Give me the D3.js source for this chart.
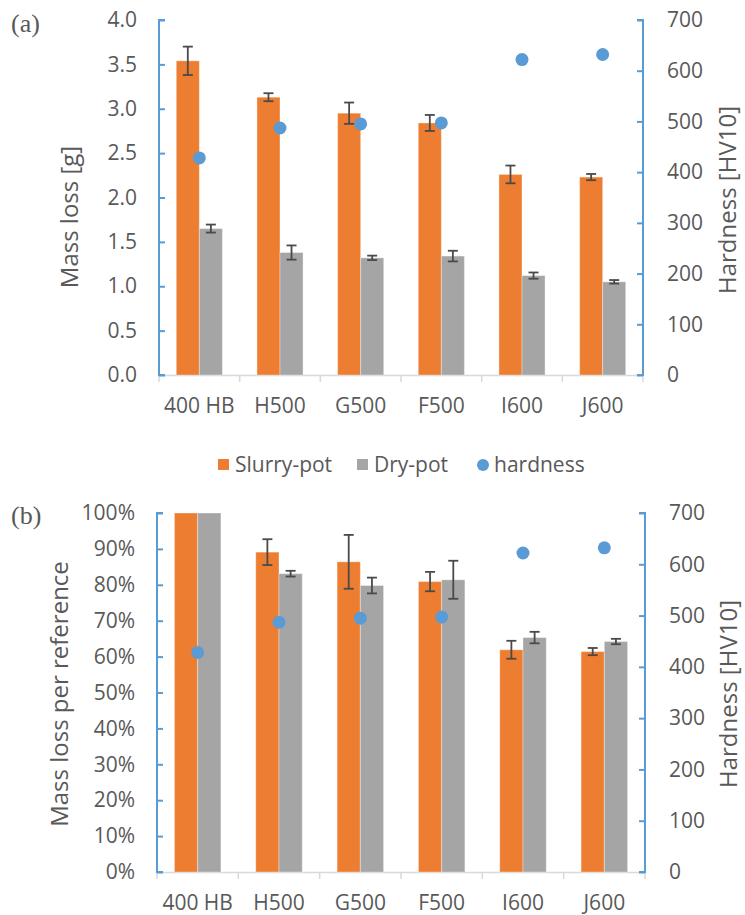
<!DOCTYPE html>
<html>
<head>
<meta charset="utf-8">
<script src="https://cdn.jsdelivr.net/npm/d3@7"></script>
<style>
  html, body { margin: 0; padding: 0; background: #fff; }
  svg { display: block; }
  text { font-family: "Open Sans", "Noto Sans", sans-serif; fill: #595959; }
</style>
</head>
<body>
<svg id="chart" width="745" height="915"></svg>
<script>
// Steel grades tested
const categories = ["400 HB", "H500", "G500", "F500", "I600", "J600"];

// Panel (a): absolute mass loss [g]
const slurryMass = [3.54, 3.13, 2.95, 2.84, 2.26, 2.23];
const slurryMassErr = [0.16, 0.045, 0.12, 0.09, 0.10, 0.035];
const dryMass = [1.65, 1.38, 1.32, 1.34, 1.12, 1.05];
const dryMassErr = [0.045, 0.08, 0.025, 0.06, 0.035, 0.02];

// Panel (b): mass loss relative to the 400 HB reference [%]
const slurryRel = [100, 89.1, 86.4, 80.9, 61.9, 61.4];
const slurryRelErr = [0, 3.6, 7.5, 2.7, 2.5, 1.0];
const dryRel = [100, 83.1, 79.8, 81.4, 65.3, 64.2];
const dryRelErr = [0, 0.8, 2.2, 5.3, 1.6, 0.75];

// Vickers hardness of each grade [HV10]
const hardness = [428, 487, 495, 497, 622, 632];

// Axis ticks
const massTicks = [0, 0.5, 1.0, 1.5, 2.0, 2.5, 3.0, 3.5, 4.0];
const relTicks = [0, 10, 20, 30, 40, 50, 60, 70, 80, 90, 100];
const hardTicks = [0, 100, 200, 300, 400, 500, 600, 700];

const seriesNames = ["Slurry-pot", "Dry-pot", "hardness"];
const colors = { slurry: "#ED7D31", dry: "#A5A5A5", hard: "#5B9BD5" };
const axisBlue = "#5B9BD5";
const textGray = "#595959";
const fontSize = 21;
const titleSize = 24;

const svg = d3.select("#chart");

function drawPanel(p) {
  const g = svg.append("g");
  const x = d3.scaleBand().domain(categories).range([p.left, p.right]).padding(0);
  const inner = d3.scaleBand().domain(["slurry", "dry"]).range([0, x.bandwidth()])
    .paddingInner(0).paddingOuter(0.75);
  const y = d3.scaleLinear().domain([0, p.yMax]).range([p.bottom, p.top]);
  const y2 = d3.scaleLinear().domain([0, 700]).range([p.bottom, p.top]);

  // x axis baseline and category separators
  g.append("line").attr("x1", p.left).attr("x2", p.right)
    .attr("y1", p.bottom + 0.5).attr("y2", p.bottom + 0.5)
    .attr("stroke", "#D9D9D9").attr("stroke-width", 1.5);
  const seps = d3.range(categories.length + 1).map(i => p.left + i * x.step());
  g.selectAll(".sep").data(seps).join("line")
    .attr("x1", d => d).attr("x2", d => d)
    .attr("y1", p.bottom).attr("y2", p.bottom + 7)
    .attr("stroke", "#D9D9D9").attr("stroke-width", 1.5);

  // bars
  const series = [
    { key: "slurry", vals: p.slurry, errs: p.slurryErr },
    { key: "dry", vals: p.dry, errs: p.dryErr }
  ];
  series.forEach(s => {
    g.selectAll(".bar-" + s.key).data(categories).join("rect")
      .attr("x", c => x(c) + inner(s.key))
      .attr("y", (c, i) => y(s.vals[i]))
      .attr("width", inner.bandwidth())
      .attr("height", (c, i) => p.bottom - y(s.vals[i]))
      .attr("fill", colors[s.key])
      .attr("stroke", "#fff").attr("stroke-opacity", 0.35).attr("stroke-width", 1);
  });

  // error bars
  series.forEach(s => {
    categories.forEach((c, i) => {
      const e = s.errs[i];
      if (!e) return;
      const cx = x(c) + inner(s.key) + inner.bandwidth() / 2;
      const y0 = y(s.vals[i] - e), y1 = y(s.vals[i] + e);
      const eg = g.append("g").attr("stroke", "#4a4a4a").attr("stroke-width", 1.8);
      eg.append("line").attr("x1", cx).attr("x2", cx).attr("y1", y0).attr("y2", y1);
      eg.append("line").attr("x1", cx - 5).attr("x2", cx + 5).attr("y1", y0).attr("y2", y0);
      eg.append("line").attr("x1", cx - 5).attr("x2", cx + 5).attr("y1", y1).attr("y2", y1);
    });
  });

  // hardness markers
  g.selectAll(".hard").data(categories).join("circle")
    .attr("cx", c => x(c) + x.bandwidth() / 2)
    .attr("cy", (c, i) => y2(hardness[i]))
    .attr("r", 6.5)
    .attr("fill", colors.hard);

  // left axis
  const la = g.append("g").attr("transform", `translate(${p.left},0)`)
    .call(d3.axisLeft(y).tickValues(p.ticks).tickSize(-6).tickPadding(22).tickFormat(p.fmt));
  la.select(".domain").attr("stroke", axisBlue).attr("stroke-width", 2)
    .attr("d", `M6,${p.top}H0V${p.bottom}H6`);
  la.selectAll(".tick line").attr("stroke", axisBlue).attr("stroke-width", 2);
  la.selectAll(".tick text").attr("font-size", fontSize).attr("font-family", null).attr("fill", textGray);

  // right axis
  const ra = g.append("g").attr("transform", `translate(${p.right},0)`)
    .call(d3.axisRight(y2).tickValues(hardTicks).tickSize(-6).tickPadding(24));
  ra.select(".domain").attr("stroke", axisBlue).attr("stroke-width", 2)
    .attr("d", `M-6,${p.top}H0V${p.bottom}H-6`);
  ra.selectAll(".tick line").attr("stroke", axisBlue).attr("stroke-width", 2);
  ra.selectAll(".tick text").attr("font-size", fontSize).attr("font-family", null).attr("fill", textGray);

  // category labels
  g.selectAll(".cat").data(categories).join("text")
    .attr("x", c => x(c) + x.bandwidth() / 2)
    .attr("y", p.bottom + 38)
    .attr("text-anchor", "middle")
    .attr("font-size", fontSize)
    .text(c => c);

  // axis titles
  g.append("text")
    .attr("transform", `translate(${p.leftTitleX},${p.leftTitleY}) rotate(-90)`)
    .attr("text-anchor", "middle").attr("font-size", titleSize)
    .text(p.leftTitle);
  g.append("text")
    .attr("transform", `translate(${p.rightTitleX},${p.rightTitleY}) rotate(-90)`)
    .attr("text-anchor", "middle").attr("font-size", titleSize)
    .text("Hardness [HV10]");

  // panel letter
  g.append("text").attr("x", 11).attr("y", p.letterY)
    .style("font-family", "'Liberation Serif', 'Times New Roman', serif")
    .attr("font-size", 26).attr("fill", "#000")
    .text(p.letter);
}

drawPanel({
  left: 159, right: 643, top: 20, bottom: 375,
  yMax: 4, ticks: massTicks, fmt: d3.format(".1f"),
  slurry: slurryMass, slurryErr: slurryMassErr, dry: dryMass, dryErr: dryMassErr,
  leftTitle: "Mass loss [g]", leftTitleX: 78, leftTitleY: 217,
  rightTitleX: 736, rightTitleY: 200,
  letter: "(a)", letterY: 32
});

drawPanel({
  left: 157, right: 645, top: 513, bottom: 872,
  yMax: 100, ticks: relTicks, fmt: d => d + "%",
  slurry: slurryRel, slurryErr: slurryRelErr, dry: dryRel, dryErr: dryRelErr,
  leftTitle: "Mass loss per reference", leftTitleX: 68, leftTitleY: 694,
  rightTitleX: 737, rightTitleY: 694,
  letter: "(b)", letterY: 524
});

// legend
const legend = svg.append("g").attr("transform", "translate(0,464)");
const legendItems = [
  { name: seriesNames[0], color: colors.slurry, shape: "rect", x: 218 },
  { name: seriesNames[1], color: colors.dry, shape: "rect", x: 357 },
  { name: seriesNames[2], color: colors.hard, shape: "circle", x: 477 }
];
legendItems.forEach(it => {
  if (it.shape === "rect") {
    legend.append("rect").attr("x", it.x).attr("y", -5).attr("width", 11).attr("height", 11)
      .attr("fill", it.color);
  } else {
    legend.append("circle").attr("cx", it.x + 6).attr("cy", 1).attr("r", 6).attr("fill", it.color);
  }
  legend.append("text").attr("x", it.x + 17).attr("y", 8)
    .attr("font-size", fontSize).text(it.name);
});
</script>
</body>
</html>
